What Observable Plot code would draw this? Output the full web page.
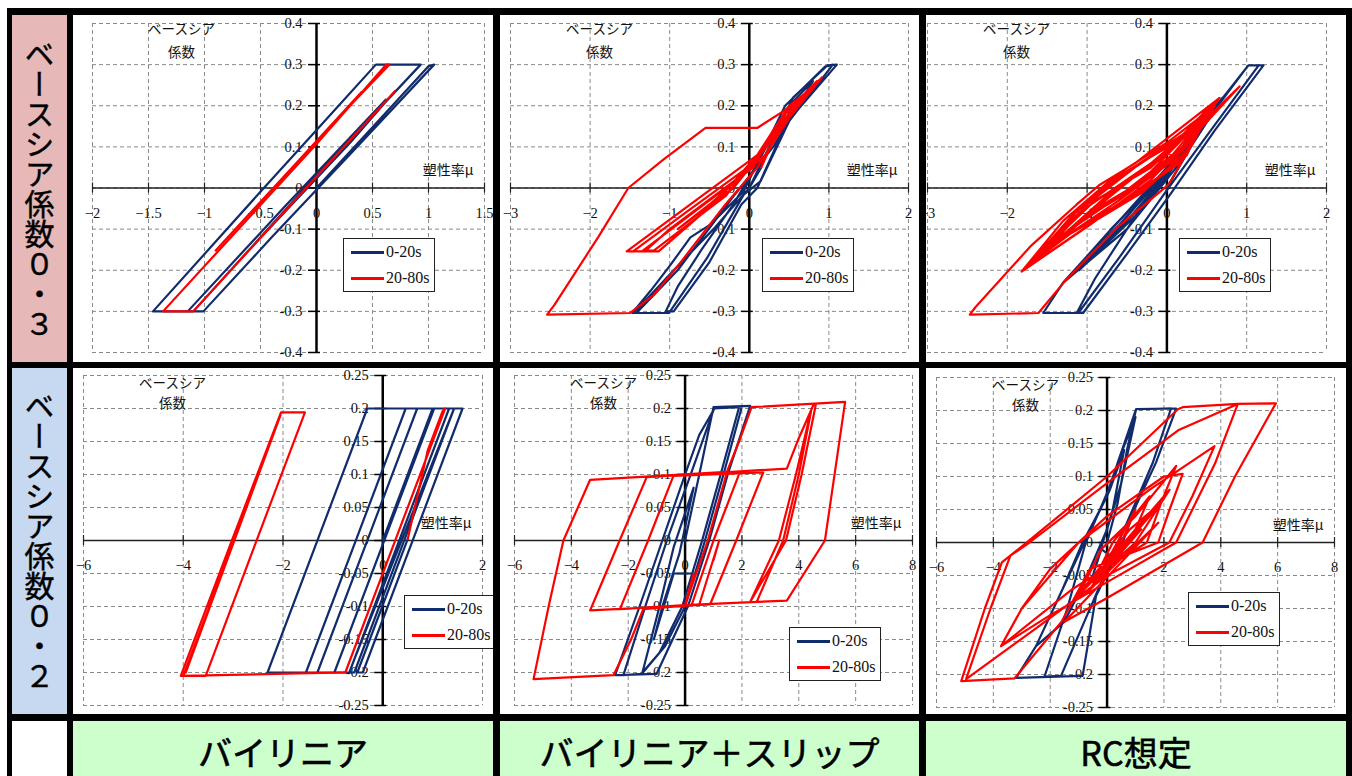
<!DOCTYPE html>
<html><head><meta charset="utf-8">
<script src="https://cdn.jsdelivr.net/npm/d3@7"></script>
<script src="https://cdn.jsdelivr.net/npm/@observablehq/plot@0.6"></script>
<style>
html,body{margin:0;padding:0;background:#fff;width:1352px;height:776px;overflow:hidden;position:relative;}
#frame{position:absolute;left:7px;top:8px;width:1345px;height:768px;background:#000;}
.cell{position:absolute;overflow:hidden;background:#fff;}
.rowlab{display:flex;align-items:center;justify-content:center;}
.rowlab span{writing-mode:vertical-rl;font-family:"Noto Sans CJK JP";font-weight:400;-webkit-text-stroke:0.4px #000;font-size:30px;line-height:1;color:#000;}
.collab{background:#ccffcc;text-align:center;font-family:"Noto Sans CJK JP";font-weight:400;-webkit-text-stroke:0.6px #000;font-size:34px;line-height:62px;color:#000;}
.legend{position:absolute;width:92px;height:54px;background:#fff;border:1px solid #222;box-sizing:border-box;}
.legend .sw{position:absolute;left:7px;width:33px;height:3px;}
.legend .lt{position:absolute;left:42px;font-family:"Liberation Serif","Times New Roman","DejaVu Serif",serif;font-size:16px;line-height:16px;color:#111;white-space:nowrap;}
</style></head>
<body>
<div id="frame"></div>
<div id="root"></div>
<script>
// ---------- tick values ----------
const xTicksBL3 = [-2,-1.5,-1,-0.5,0,0.5,1,1.5];
const xTicks3 = [-3,-2,-1,0,1,2];
const xTicksBL2 = [-6,-4,-2,0,2];
const xTicks2 = [-6,-4,-2,0,2,4,6,8];
const yTicks03 = [-0.4,-0.3,-0.2,-0.1,0,0.1,0.2,0.3,0.4];
const yTicks02 = [-0.25,-0.2,-0.15,-0.1,-0.05,0,0.05,0.1,0.15,0.2,0.25];

const rowLabels = ["ベースシア係数０・３","ベースシア係数０・２"];
const colLabels = ["バイリニア","バイリニア＋スリップ","RC想定"];
const seriesNames = ["0-20s","20-80s"];
const yTitle = ["ベースシア","係数"];
const xTitle = "塑性率μ";

// ---------- series: [plasticity ratio μ, base shear coefficient] ----------
// Bilinear, Cs = 0.3
const bl3_0_20 = [[0,0],[0.5,0.148],[1.0,0.296],[1.05,0.3],[0.3,0.082],[-0.4,-0.12],[-1.01,-0.3],[-1.46,-0.3],[-0.47,0],[0.1,0.171],[0.53,0.3],[0.93,0.3],[0.2,0.088],[-0.5,-0.12],[-1.1,-0.3],[-1.15,-0.3],[-0.3,-0.05],[0.62,0.215],[0.1,0.06],[-0.6,-0.15],[0.3,0.11],[0.7,0.235]];
const bl3_20_80 = [[0.7,0.235],[0.2,0.087],[-0.5,-0.121],[-1.1,-0.3],[-1.37,-0.3],[-0.6,-0.071],[0,0.107],[0.59,0.29],[0.62,0.3],[0.65,0.3],[0.2,0.172],[-0.4,-0.004],[-0.9,-0.152],[-0.2,0.055],[0.4,0.233],[-0.5,-0.036],[0.3,0.2],[-0.2,0.052],[0.1,0.14]];
// Bilinear + slip, Cs = 0.3
const bs3_0_20 = [[0,0],[0.3,0.12],[0.55,0.22],[0.98,0.298],[1.1,0.3],[0.52,0.17],[0.14,0.016],[-0.07,-0.016],[-0.53,-0.17],[-1.01,-0.304],[-1.47,-0.304],[-1.24,-0.25],[-0.99,-0.187],[-0.74,-0.12],[-0.49,-0.089],[-0.07,-0.008],[0.1,0.06],[0.45,0.2],[0.95,0.295],[1.05,0.3],[0.45,0.15],[0.1,0.0],[-0.1,-0.04],[-0.5,-0.18],[-0.95,-0.3],[-1.05,-0.3],[-0.9,-0.24],[-0.6,-0.15],[-0.2,-0.04],[0.1,0.06],[0.5,0.2],[0.8,0.26],[0.3,0.1],[-0.2,-0.02],[-0.9,-0.2],[-1.4,-0.3],[-1.45,-0.304],[-0.95,-0.2],[-0.45,-0.1],[0.0,0.0],[0.15,0.05]];
const bs3_20_80 = [[0.15,0.05],[0.45,0.18],[0.91,0.268],[0.5,0.17],[0.1,0.05],[-0.3,-0.04],[-0.9,-0.19],[-1.2,-0.26],[-1.5,-0.304],[-2.54,-0.308],[-2.45,-0.285],[-1.9,-0.12],[-1.52,0],[-1.08,0.069],[-0.55,0.146],[0.1,0.146],[0.43,0.187],[0.64,0.219],[0.91,0.268],[0.55,0.19],[0.1,0.08],[-0.6,-0.02],[-1.54,-0.154],[-1.35,-0.154],[-0.5,-0.03],[0.05,0.05],[0.4,0.17],[0.85,0.26],[0.45,0.16],[0.05,0.06],[-0.8,-0.06],[-1.46,-0.154],[-1.14,-0.154],[-0.4,-0.03],[0.1,0.08],[0.5,0.2],[0.7,0.23],[0.3,0.13],[-0.1,0.03],[-1.0,-0.1],[-1.3,-0.152],[-1.2,-0.152],[-0.3,-0.02],[0.2,0.1],[0.6,0.21],[0.2,0.08],[-0.5,-0.04],[-0.9,-0.1],[-0.2,0.0],[0.3,0.12]];
// RC, Cs = 0.3
const rc3_0_20 = [[0,0],[0.3,0.1],[0.6,0.19],[1.02,0.298],[1.21,0.298],[0.6,0.14],[0.04,-0.016],[-0.5,-0.16],[-1.05,-0.304],[-1.55,-0.304],[-1.3,-0.23],[-0.6,-0.08],[0.0,0.05],[0.5,0.17],[1.02,0.298],[1.15,0.298],[0.55,0.14],[0.0,-0.005],[-0.6,-0.17],[-1.11,-0.304],[-1.13,-0.304],[-0.9,-0.22],[-0.3,-0.04],[0.3,0.13],[0.7,0.22],[0.2,0.07],[-0.5,-0.1],[-1.28,-0.227],[-0.7,-0.1],[0.0,0.04],[0.33,0.12],[-0.2,-0.02],[-1.0,-0.18],[-0.4,-0.06],[0.2,0.08],[-0.5,-0.08],[-1.2,-0.21],[-0.6,-0.09],[0.1,0.06],[-0.3,-0.05],[-1.1,-0.2],[-0.5,-0.07],[0.25,0.1],[-0.1,0.0],[0.08,0.065]];
const rc3_20_80 = [[0.08,0.065],[0.4,0.14],[0.91,0.247],[0.5,0.17],[0.02,0.008],[-0.63,-0.097],[-1.28,-0.227],[-1.61,-0.304],[-2.47,-0.308],[-2.4,-0.29],[-1.7,-0.14],[-1.13,-0.04],[-0.84,0.008],[-0.4,0.06],[0,0.12],[0.66,0.219],[0.3,0.12],[-0.2,0.02],[-0.96,-0.089],[-1.82,-0.203],[-1.3,-0.08],[-0.63,0.032],[0,0.11],[0.6,0.2],[0.2,0.09],[-0.5,-0.01],[-1.0,-0.07],[-1.7,-0.18],[-1.1,-0.06],[-0.5,0.02],[0.1,0.1],[0.55,0.19],[0.1,0.07],[-0.6,-0.03],[-1.6,-0.16],[-0.9,-0.03],[-0.2,0.05],[0.45,0.17],[-0.1,0.04],[-0.8,-0.04],[-1.45,-0.14],[-0.7,-0.01],[0.0,0.08],[0.35,0.15],[-0.3,0.02],[-1.2,-0.1],[-0.6,-0.02],[0.2,0.1],[-0.4,0.0],[-1.0,-0.07],[-1.5,-0.15],[-1.0,-0.04],[-0.4,0.05],[0.3,0.14],[0.6,0.21],[0.3,0.1],[-0.3,-0.01],[-0.9,-0.08],[-1.65,-0.18],[-1.1,-0.05],[-0.5,0.04],[0.2,0.13],[0.5,0.19],[0.25,0.08],[-0.4,-0.02],[-1.2,-0.11],[-1.75,-0.19],[-1.2,-0.07],[-0.6,0.03],[0.1,0.11],[0.62,0.21],[0.15,0.06],[-0.5,-0.03],[-1.3,-0.12],[-0.9,-0.05],[-0.2,0.06],[0.4,0.16],[0.0,0.04],[-0.7,-0.05],[-1.4,-0.13],[-0.8,-0.03],[0.0,0.09],[0.1,0.07]];
// Bilinear, Cs = 0.2
const bl2_0_20 = [[0,0],[1.0,0.2],[1.43,0.2],[-0.57,-0.2],[-1.54,-0.2],[0.46,0.2],[0.69,0.2],[-1.31,-0.2],[-2.31,-0.2],[-0.31,0.2],[1.03,0.2],[-0.97,-0.2],[0.2,0.034],[-0.84,-0.174],[1.03,0.2],[1.33,0.2],[-0.67,-0.2],[0.5,0.034],[-0.57,-0.18],[1.43,0.2],[1.6,0.2],[-0.4,-0.2],[-0.51,-0.2],[0.5,0.002]];
const bl2_20_80 = [[0.5,0.002],[0.9,0.136],[1.2,0.196],[1.25,0.2],[-0.75,-0.2],[-0.78,-0.2],[-4.05,-0.205],[-3.0,0.005],[-2.04,0.194],[-1.56,0.194],[-2.5,0.006],[-3.55,-0.205],[-4.0,-0.205],[-3.0,-0.005],[-2.05,0.19],[-3.0,0.0],[-3.95,-0.2],[-2.1,0.18],[-3.5,-0.1],[-2.3,0.14],[-3.2,-0.04],[-2.6,0.08],[-3.0,0.0]];
// Bilinear + slip, Cs = 0.2
const bs2_0_20 = [[0,0],[0.5,0.1],[1.0,0.202],[2.29,0.204],[1.5,0.1],[0.85,0.0],[0.1,-0.1],[-1.0,-0.202],[-2.46,-0.204],[-1.6,-0.1],[-0.8,0.0],[0.0,0.1],[0.5,0.16],[1.06,0.202],[2.0,0.203],[1.35,0.1],[0.7,0.0],[0.0,-0.1],[-0.7,-0.16],[-1.52,-0.202],[-2.17,-0.204],[-1.4,-0.1],[-0.64,0.0],[0.18,0.098],[0.64,0.154],[1.02,0.2],[1.9,0.202],[1.25,0.1],[0.6,0.0],[-0.1,-0.1],[-0.9,-0.17],[-1.5,-0.2],[-0.9,-0.1],[-0.4,-0.01],[0.3,0.08],[-0.2,-0.02],[-0.8,-0.1],[-1.1,-0.15],[-0.4,-0.05],[0.3,-0.05]];
const bs2_20_80 = [[0.3,-0.05],[0.0,-0.098],[-2.29,-0.104],[-1.3,0.0],[-0.41,0.098],[2.75,0.103],[1.8,0.0],[0.88,-0.097],[-3.34,-0.106],[-2.35,-0.005],[-1.35,0.096],[3.58,0.109],[4.0,0.155],[4.51,0.205],[4.6,0.206],[4.1,0.1],[3.55,0.0],[2.29,-0.093],[3.3,0.0],[3.9,0.1],[4.45,0.2],[4.0,0.1],[3.45,0.0],[2.52,-0.093],[0.0,-0.098],[0.8,0.0],[1.47,0.103],[1.93,0.104],[1.0,0.0],[0.23,-0.098],[-1.47,-0.104],[-1.9,-0.15],[-2.52,-0.204],[-5.33,-0.21],[-4.8,-0.1],[-4.28,0.0],[-3.34,0.092],[1.47,0.104],[1.9,0.15],[2.34,0.202],[5.63,0.21],[4.92,0.0],[3.58,-0.091],[0.5,-0.097],[1.2,0.0],[1.0,-0.03]];
// RC, Cs = 0.2
const rc2_0_20 = [[0,0],[0.375,0.06],[0.7,0.14],[1.02,0.202],[2.43,0.203],[1.72,0.121],[1.02,0.056],[0.55,0.0],[-0.39,-0.081],[-0.86,-0.202],[-3.2,-0.205],[-2.5,-0.157],[-1.56,-0.07],[-0.86,0.0],[0.0,0.07],[0.375,0.121],[1.02,0.202],[2.25,0.203],[1.6,0.12],[0.9,0.05],[0.4,0.0],[-0.5,-0.09],[-1.62,-0.202],[-2.2,-0.203],[-1.4,-0.1],[-0.75,0.0],[0.05,0.08],[0.45,0.13],[1.0,0.19],[0.5,0.09],[0.0,0.02],[-0.8,-0.06],[-1.5,-0.12],[-2.5,-0.157],[-1.5,-0.065],[-0.8,0.0],[0.1,0.08],[0.6,0.14],[0.2,0.05],[-0.5,-0.05],[-0.2,-0.01],[0.1,-0.02]];
const rc2_20_80 = [[0.1,-0.02],[1.0,0.05],[0.5,0.0],[-0.5,-0.06],[0.2,0.0],[1.5,0.07],[0.8,0.0],[-1.0,-0.08],[-0.2,-0.01],[1.0,0.04],[2.43,0.116],[1.9,0.06],[1.4,0.0],[-1.2,-0.07],[-3.73,-0.157],[-3.0,-0.1],[-2.0,-0.04],[0.0,0.04],[2.0,0.1],[2.66,0.104],[2.2,0.05],[1.8,0.0],[-0.6,-0.04],[-1.6,-0.12],[-3.26,-0.206],[-5.13,-0.21],[-4.3,-0.1],[-3.7,-0.03],[-2.91,-0.003],[0.0,0.1],[2.49,0.202],[2.66,0.205],[4.6,0.21],[3.8,0.12],[2.43,0.0],[0.0,-0.06],[-2.0,-0.11],[-3.73,-0.157],[-3.0,-0.1],[-1.0,0.0],[1.5,0.08],[3.78,0.146],[3.0,0.07],[2.19,0.0],[0.0,-0.05],[-2.5,-0.13],[-4.96,-0.207],[-4.1,-0.1],[-3.4,-0.02],[-2.73,0.0],[0.0,0.09],[2.5,0.17],[4.6,0.21],[5.94,0.211],[4.5,0.1],[3.36,0.0],[0.0,-0.084],[-1.5,-0.12],[0.5,-0.03],[1.8,0.03],[0.6,-0.02],[-0.8,-0.08],[1.2,0.02],[0.2,-0.03],[-0.6,-0.07],[1.4,0.04],[2.2,0.08],[1.0,0.0],[-0.3,-0.05],[1.6,0.05],[0.4,-0.01],[-1.2,-0.09],[0.8,0.02],[1.9,0.06],[0.3,-0.02]];

// ---------- layout ----------
const NAVY = "#112c6c", RED = "#ff0000";
const SERIF = "'Liberation Serif','Times New Roman','DejaVu Serif',serif";
const GOTHIC = "'Noto Sans CJK JP',sans-serif";
const root = document.getElementById("root");
function cell(l, t, w, h, cls, bg) {
  const d = document.createElement("div");
  d.className = "cell" + (cls ? " " + cls : "");
  Object.assign(d.style, {left: l + "px", top: t + "px", width: w + "px", height: h + "px"});
  if (bg) d.style.background = bg;
  root.appendChild(d);
  return d;
}
[[15, 347, "#e6b9b8"], [368, 346, "#c6d9f0"]].forEach(([t, h, bg], i) => {
  const c = cell(12, t, 55, h, "rowlab", bg);
  const s = document.createElement("span"); s.textContent = rowLabels[i]; c.appendChild(s);
});
cell(12, 721, 55, 60, "", "#fff");
[[73, 420], [500, 419], [926, 420]].forEach(([l, w], i) => {
  const c = cell(l, 721, w, 60, "collab");
  c.textContent = colLabels[i];
});

const fmtX = d => d < 0 ? "\u2212" + Math.abs(d) : String(d);

const charts = [
  {cell: [73, 15, 420, 347], m: [19, 9, 8, 10], xt: xTicksBL3, yt: yTicks03, blue: bl3_0_20, red: bl3_20_80, leg: [270, 223], ty: [6, 29]},
  {cell: [500, 15, 419, 347], m: [10, 11, 8, 10], xt: xTicks3, yt: yTicks03, blue: bs3_0_20, red: bs3_20_80, leg: [262, 223], ty: [6, 29]},
  {cell: [926, 15, 420, 347], m: [1, 20, 8, 10], xt: xTicks3, yt: yTicks03, blue: rc3_0_20, red: rc3_20_80, leg: [253, 223], ty: [6, 29]},
  {cell: [73, 368, 420, 346], m: [10, 11, 7, 9], xt: xTicksBL2, yt: yTicks02, blue: bl2_0_20, red: bl2_20_80, leg: [331, 227], ty: [8, 28]},
  {cell: [500, 368, 419, 346], m: [14, 7, 7, 9], xt: xTicks2, yt: yTicks02, blue: bs2_0_20, red: bs2_20_80, leg: [289, 259], ty: [8, 28]},
  {cell: [926, 368, 420, 346], m: [10, 12, 9, 7], xt: xTicks2, yt: yTicks02, blue: rc2_0_20, red: rc2_20_80, leg: [262, 224], ty: [8, 28]}
];

charts.forEach(c => {
  const [l, t, w, h] = c.cell;
  const [ml, mr, mt, mb] = c.m;
  const xd = [d3.min(c.xt), d3.max(c.xt)], yd = [d3.min(c.yt), d3.max(c.yt)];
  const kx = (xd[1] - xd[0]) / (w - ml - mr), ky = (yd[1] - yd[0]) / (h - mt - mb);
  const grid = {stroke: "#8a8a8a", strokeWidth: 1, strokeDasharray: "4,3"};
  const plot = Plot.plot({
    width: w, height: h, marginLeft: ml, marginRight: mr, marginTop: mt, marginBottom: mb,
    x: {domain: xd, axis: null}, y: {domain: yd, axis: null},
    style: {background: "transparent", fontFamily: SERIF},
    marks: [
      Plot.ruleX(c.xt, {x: d => d, ...grid}),
      Plot.ruleY(c.yt, {y: d => d, ...grid}),
      Plot.ruleY([0], {stroke: "#222", strokeWidth: 1.5}),
      Plot.ruleX([0], {stroke: "#000", strokeWidth: 2.5}),
      Plot.ruleY(c.yt, {y: d => d, x1: -8 * kx, x2: 4 * kx, stroke: "#000", strokeWidth: 1.5}),
      Plot.ruleX(c.xt, {x: d => d, y1: -5 * ky, y2: 5 * ky, stroke: "#222", strokeWidth: 1.2}),
      Plot.text(c.yt, {x: 0, y: d => d, text: d => String(d), textAnchor: "end", dx: -14, fontFamily: SERIF, fontSize: 14.5, fill: "#111"}),
      Plot.text(c.xt, {x: d => d, y: 0, text: fmtX, dy: 25, fontFamily: SERIF, fontSize: 14.5, fill: "#111"}),
      Plot.line(c.blue, {x: d => d[0], y: d => d[1], stroke: NAVY, strokeWidth: 2.2, strokeLinejoin: "round"}),
      Plot.line(c.red, {x: d => d[0], y: d => d[1], stroke: RED, strokeWidth: 2.2, strokeLinejoin: "round"}),
      Plot.text([yTitle[0]], {frameAnchor: "top-left", dx: 89, dy: c.ty[0], textAnchor: "middle", lineAnchor: "middle", text: d => d, fontFamily: GOTHIC, fontSize: 13.5, fill: "#111"}),
      Plot.text([yTitle[1]], {frameAnchor: "top-left", dx: 89, dy: c.ty[1], textAnchor: "middle", lineAnchor: "middle", text: d => d, fontFamily: GOTHIC, fontSize: 13.5, fill: "#111"}),
      Plot.text([xTitle], {x: xd[1], y: 0, dx: -11, dy: -17, textAnchor: "end", lineAnchor: "middle", text: d => d, fontFamily: GOTHIC, fontSize: 14, fill: "#111"})
    ]
  });
  const box = cell(l, t, w, h, "", "#fff");
  box.appendChild(plot);
  const lg = document.createElement("div");
  lg.className = "legend";
  lg.style.left = c.leg[0] + "px"; lg.style.top = c.leg[1] + "px";
  [[NAVY, 13], [RED, 39]].forEach(([col, y], i) => {
    const sw = document.createElement("div"); sw.className = "sw";
    sw.style.top = (y - 1) + "px"; sw.style.background = col; lg.appendChild(sw);
    const tx = document.createElement("div"); tx.className = "lt";
    tx.style.top = (y - 8) + "px"; tx.textContent = seriesNames[i]; lg.appendChild(tx);
  });
  box.appendChild(lg);
});
</script>
</body></html>
